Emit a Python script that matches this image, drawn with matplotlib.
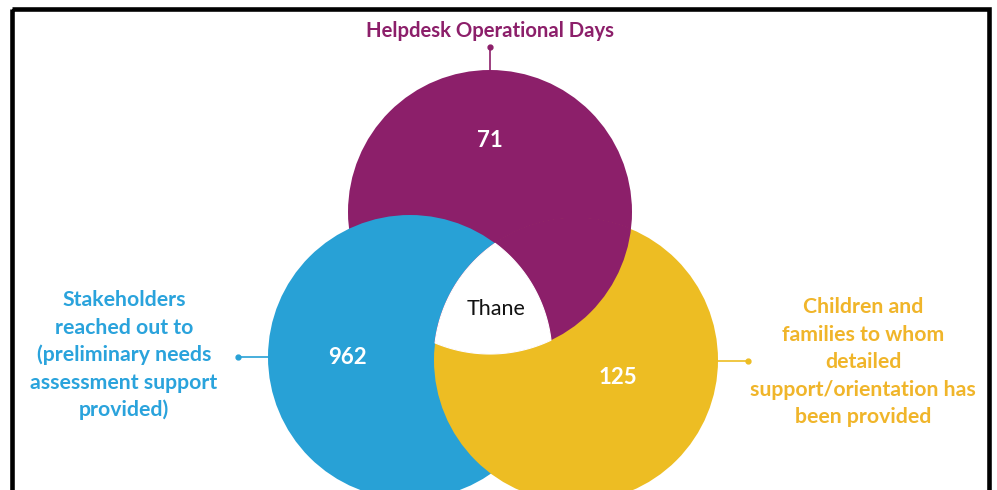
import numpy as np
import matplotlib.pyplot as plt
from matplotlib.patches import Circle, Rectangle, Polygon

# data
sets = ['Helpdesk Operational Days', 'Stakeholders', 'Children and families']
values = [71, 962, 125]
centre_label = 'Thane'
top_lines = ['Helpdesk Operational Days']
left_lines = ['Stakeholders', 'reached out to', '(preliminary needs',
              'assessment support', 'provided)']
right_lines = ['Children and', 'families to whom', 'detailed',
               'support/orientation has', 'been provided']

PURPLE = '#8c1f6a'
BLUE = '#28a1d6'
YELLOW = '#edbd23'
BLUE_TXT = '#2aa3dc'
YELLOW_TXT = '#f0b52a'

# circle geometry (pixel coords, y down)
R = 142
c_purple = (490, 212)
c_blue = (410, 357)
c_yellow = (576, 360)

plt.rcParams['font.family'] = ['Lato', 'DejaVu Sans']

fig = plt.figure(figsize=(9.97, 4.9), dpi=100)
ax = fig.add_axes([0, 0, 1, 1])
ax.set_xlim(0, 997)
ax.set_ylim(490, 0)
ax.set_aspect('equal')
ax.axis('off')

def circ(c, col, z, r=R):
    p = Circle(c, r, facecolor=col, edgecolor='none', zorder=z)
    ax.add_patch(p)
    return p

# purple, then blue over it, then yellow over blue
circ(c_purple, PURPLE, 1)
circ(c_blue, BLUE, 2)
circ(c_yellow, YELLOW, 3)
# purple sits over yellow (clip a hair wider to hide the edge fringe)
clip = Circle(c_yellow, R + 0.6, transform=ax.transData)
p2 = circ(c_purple, PURPLE, 4)
p2.set_clip_path(clip)

# white triple intersection
def inside(pt, c):
    return (pt[0] - c[0]) ** 2 + (pt[1] - c[1]) ** 2 <= R ** 2 + 1e-6

cs = [c_purple, c_blue, c_yellow]
t = np.linspace(0, 2 * np.pi, 2000)
pts = []
for i, c in enumerate(cs):
    others = [o for j, o in enumerate(cs) if j != i]
    for a in t:
        pt = (c[0] + R * np.cos(a), c[1] + R * np.sin(a))
        if all(inside(pt, o) for o in others):
            pts.append(pt)
pts = np.array(pts)
m = pts.mean(axis=0)
order = np.argsort(np.arctan2(pts[:, 1] - m[1], pts[:, 0] - m[0]))
ax.add_patch(Polygon(pts[order], closed=True, facecolor='white',
                     edgecolor='white', lw=0.8, zorder=5))

# numbers
num_kw = dict(color='white', fontsize=16, fontweight='bold',
              ha='center', va='center', zorder=6)
ax.text(490, 140, str(values[0]), **num_kw)
ax.text(347, 357, str(values[1]), **num_kw)
ax.text(618, 377, str(values[2]), **num_kw)
ax.text(496, 309, centre_label, color='#111111', fontsize=15.5,
        ha='center', va='center', zorder=6)

# labels
lab_kw = dict(fontsize=15.3, fontweight='bold', ha='center', va='center')
for i, s in enumerate(top_lines):
    ax.text(490, 31 + 27 * i, s, color=PURPLE, fontsize=14.6,
            fontweight='bold', ha='center', va='center')
for i, s in enumerate(left_lines):
    ax.text(124, 300 + 27.5 * i, s, color=BLUE_TXT, **lab_kw)
for i, s in enumerate(right_lines):
    ax.text(863, 307 + 27.5 * i, s, color=YELLOW_TXT, **lab_kw)

# connectors
ax.plot([490, 490], [47, 71], color=PURPLE, lw=1.2, zorder=0)
ax.plot([490], [47], 'o', color=PURPLE, ms=3.5)
ax.plot([238, 268], [357, 357], color=BLUE, lw=1.2, zorder=0)
ax.plot([238], [357], 'o', color=BLUE, ms=3.5)
ax.plot([718, 748], [361, 361], color=YELLOW, lw=1.2, zorder=0)
ax.plot([748], [361], 'o', color=YELLOW, ms=3.5)

# frame
ax.add_patch(Rectangle((11.7, 9.5), 989 - 11.7, 520, fill=False,
                       edgecolor='black', lw=3.3, zorder=10, clip_on=False))

fig.savefig('out.png', dpi=100)
